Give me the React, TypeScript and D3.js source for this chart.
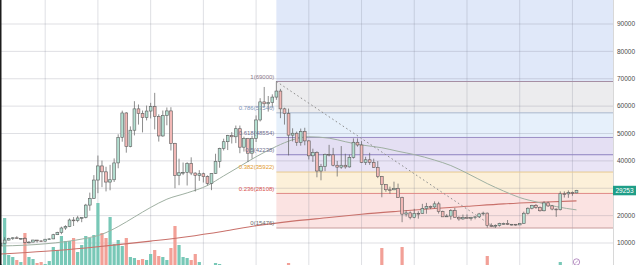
import React from "react";
import * as d3 from "d3";

const WIDTH = 640;
const HEIGHT = 265;
const PLOT_RIGHT = 613;

// Weekly BTC/USD candles: [week start (Monday), open, high, low, close]
const candles: [string, number, number, number, number][] = [
  ["2020-07-20", 9160, 9990, 9050, 9930],
  ["2020-07-27", 9930, 12100, 9900, 11060],
  ["2020-08-03", 11060, 11900, 10950, 11590],
  ["2020-08-10", 11590, 12080, 11130, 11900],
  ["2020-08-17", 11900, 12480, 11500, 11650],
  ["2020-08-24", 11650, 11800, 11120, 11700],
  ["2020-08-31", 11700, 12090, 9880, 10250],
  ["2020-09-07", 10250, 10700, 9880, 10330],
  ["2020-09-14", 10330, 11180, 10200, 11080],
  ["2020-09-21", 11080, 11100, 10130, 10770],
  ["2020-09-28", 10770, 10960, 10370, 10660],
  ["2020-10-05", 10660, 11500, 10550, 11380],
  ["2020-10-12", 11380, 11720, 11200, 11500],
  ["2020-10-19", 11500, 13350, 11410, 13030],
  ["2020-10-26", 13030, 14100, 12900, 13800],
  ["2020-11-02", 13800, 15960, 13200, 15480],
  ["2020-11-09", 15480, 16480, 14800, 15960],
  ["2020-11-16", 15960, 18950, 15800, 18400],
  ["2020-11-23", 18400, 19480, 16200, 18180],
  ["2020-11-30", 18180, 19920, 17600, 19150],
  ["2020-12-07", 19150, 19420, 17600, 19270],
  ["2020-12-14", 19270, 24300, 19000, 23850],
  ["2020-12-21", 23850, 28400, 21800, 26280],
  ["2020-12-28", 26280, 34800, 26100, 33000],
  ["2021-01-04", 33000, 41950, 28200, 38150],
  ["2021-01-11", 38150, 40100, 30400, 36000],
  ["2021-01-18", 36000, 37850, 28850, 32260],
  ["2021-01-25", 32260, 38550, 29250, 33100],
  ["2021-02-01", 33100, 40900, 32300, 39250],
  ["2021-02-08", 39250, 49700, 37300, 48600],
  ["2021-02-15", 48600, 58350, 47000, 57500],
  ["2021-02-22", 57500, 57800, 43000, 45250],
  ["2021-03-01", 45250, 52600, 44950, 51200],
  ["2021-03-08", 51200, 61800, 49300, 59000],
  ["2021-03-15", 59000, 60600, 53250, 57350],
  ["2021-03-22", 57350, 58400, 50400, 55800],
  ["2021-03-29", 55800, 60200, 54800, 58200],
  ["2021-04-05", 58200, 61200, 55500, 59800],
  ["2021-04-12", 59800, 64850, 51500, 56200],
  ["2021-04-19", 56200, 57000, 47050, 49100],
  ["2021-04-26", 49100, 58400, 48800, 56600],
  ["2021-05-03", 56600, 59500, 53000, 58250],
  ["2021-05-10", 58250, 59600, 43800, 46400],
  ["2021-05-17", 46400, 46600, 30000, 34650],
  ["2021-05-24", 34650, 40800, 31100, 35650],
  ["2021-05-31", 35650, 39400, 34800, 35800],
  ["2021-06-07", 35800, 39500, 31000, 39100],
  ["2021-06-14", 39100, 41300, 34800, 35550],
  ["2021-06-21", 35550, 35800, 28800, 34700],
  ["2021-06-28", 34700, 36600, 32700, 35300],
  ["2021-07-05", 35300, 35700, 32100, 34250],
  ["2021-07-12", 34250, 34700, 31000, 31780],
  ["2021-07-19", 31780, 35500, 29300, 35400],
  ["2021-07-26", 35400, 42600, 35200, 39850],
  ["2021-08-02", 39850, 44800, 37500, 44550],
  ["2021-08-09", 44550, 48100, 43800, 47000],
  ["2021-08-16", 47000, 49500, 43950, 49300],
  ["2021-08-23", 49300, 50500, 46350, 48800],
  ["2021-08-30", 48800, 52900, 46500, 51750],
  ["2021-09-06", 51750, 52900, 42800, 45000],
  ["2021-09-13", 45000, 48850, 43400, 48200],
  ["2021-09-20", 48200, 48400, 39600, 42800],
  ["2021-09-27", 42800, 49200, 40800, 48200],
  ["2021-10-04", 48200, 56600, 46900, 54950],
  ["2021-10-11", 54950, 62900, 54400, 61550],
  ["2021-10-18", 61550, 67000, 59700, 60850],
  ["2021-10-25", 60850, 63700, 58000, 61300],
  ["2021-11-01", 61300, 64300, 59400, 63300],
  ["2021-11-08", 63300, 69000, 62300, 65500],
  ["2021-11-15", 65500, 66300, 55600, 59000],
  ["2021-11-22", 59000, 59400, 53250, 57300],
  ["2021-11-29", 57300, 59100, 42000, 49400],
  ["2021-12-06", 49400, 51900, 47100, 50100],
  ["2021-12-13", 50100, 50700, 45500, 46700],
  ["2021-12-20", 46700, 51800, 45550, 50800],
  ["2021-12-27", 50800, 52100, 45700, 47300],
  ["2022-01-03", 47300, 47550, 40500, 41850],
  ["2022-01-10", 41850, 44450, 39650, 43100],
  ["2022-01-17", 43100, 43500, 34000, 36300],
  ["2022-01-24", 36300, 38900, 32900, 37900],
  ["2022-01-31", 37900, 42650, 36250, 42400],
  ["2022-02-07", 42400, 45850, 41650, 42200],
  ["2022-02-14", 42200, 44750, 38000, 38400],
  ["2022-02-21", 38400, 40000, 34300, 37700],
  ["2022-02-28", 37700, 45400, 37100, 38400],
  ["2022-03-07", 38400, 42600, 37150, 37800],
  ["2022-03-14", 37800, 42300, 37550, 41250],
  ["2022-03-21", 41250, 48200, 40850, 46800],
  ["2022-03-28", 46800, 48200, 45200, 45800],
  ["2022-04-04", 45800, 47200, 39200, 39400],
  ["2022-04-11", 39400, 41500, 38500, 40400],
  ["2022-04-18", 40400, 42950, 38550, 39450],
  ["2022-04-25", 39450, 40800, 37500, 37650],
  ["2022-05-02", 37650, 39900, 33700, 34300],
  ["2022-05-09", 34300, 34500, 26700, 31300],
  ["2022-05-16", 31300, 31450, 28700, 29450],
  ["2022-05-23", 29450, 30600, 28000, 29440],
  ["2022-05-30", 29440, 32400, 29300, 29900],
  ["2022-06-06", 29900, 31700, 26550, 26600],
  ["2022-06-13", 26600, 26900, 17600, 20550],
  ["2022-06-20", 20550, 22000, 19650, 21000],
  ["2022-06-27", 21000, 21550, 18650, 19300],
  ["2022-07-04", 19300, 22500, 19050, 20850],
  ["2022-07-11", 20850, 21600, 18900, 20800],
  ["2022-07-18", 20800, 24300, 20750, 22600],
  ["2022-07-25", 22600, 24650, 20700, 23300],
  ["2022-08-01", 23300, 23650, 22400, 23180],
  ["2022-08-08", 23180, 25200, 22650, 24300],
  ["2022-08-15", 24300, 25050, 20750, 21500],
  ["2022-08-22", 21500, 21800, 19500, 19560],
  ["2022-08-29", 19560, 20550, 19520, 19850],
  ["2022-09-05", 19850, 22350, 18550, 21800],
  ["2022-09-12", 21800, 22800, 19300, 19400],
  ["2022-09-19", 19400, 19700, 18150, 18800],
  ["2022-09-26", 18800, 20400, 18450, 19300],
  ["2022-10-03", 19300, 20450, 19050, 19070],
  ["2022-10-10", 19070, 19550, 18200, 19260],
  ["2022-10-17", 19260, 19700, 18650, 19570],
  ["2022-10-24", 19570, 21000, 19250, 20630],
  ["2022-10-31", 20630, 21450, 20050, 20920],
  ["2022-11-07", 20920, 21100, 15600, 16330],
  ["2022-11-14", 16330, 17200, 15800, 16280],
  ["2022-11-21", 16280, 16800, 15476, 16450],
  ["2022-11-28", 16450, 17400, 16000, 17100],
  ["2022-12-05", 17100, 17420, 16750, 17120],
  ["2022-12-12", 17120, 18400, 16550, 16780],
  ["2022-12-19", 16780, 16950, 16400, 16840],
  ["2022-12-26", 16840, 16950, 16300, 16610],
  ["2023-01-02", 16610, 17200, 16550, 17130],
  ["2023-01-09", 17130, 21450, 17100, 20870],
  ["2023-01-16", 20870, 23000, 20400, 22700],
  ["2023-01-23", 22700, 23950, 22300, 23750],
  ["2023-01-30", 23750, 24250, 22500, 22950],
  ["2023-02-06", 22950, 23350, 21450, 21780],
  ["2023-02-13", 21780, 25250, 21550, 24650],
  ["2023-02-20", 24650, 25100, 23150, 23550],
  ["2023-02-27", 23550, 23900, 21950, 22400],
  ["2023-03-06", 22400, 22600, 19550, 22150],
  ["2023-03-13", 22150, 28850, 21900, 28000],
  ["2023-03-20", 28000, 28850, 26600, 27950],
  ["2023-03-27", 27950, 29200, 26500, 28450],
  ["2023-04-03", 28450, 28800, 27250, 28300],
  ["2023-04-10", 28300, 29400, 28200, 29253],
];

// Weekly volume (thousand BTC), one value per candle above
const volumes: number[] = [
  26, 72, 35, 33, 30, 28, 57, 33, 31, 27, 28, 26, 29, 43, 40, 54, 49, 49, 52, 38,
  45, 54, 52, 55, 87, 57, 52, 73, 46, 50, 44, 52, 33, 32, 30, 31, 30, 36, 40, 34,
  33, 30, 42, 64, 45, 33, 32, 30, 36, 28, 24, 23, 25, 27, 26, 25, 24, 22, 24, 25,
  22, 23, 22, 24, 24, 25, 22, 21, 23, 24, 21, 27, 22, 21, 19, 18, 20, 19, 22, 21,
  18, 19, 17, 19, 20, 17, 16, 18, 17, 18, 15, 15, 16, 24, 42, 20, 18, 19, 22, 43,
  24, 20, 19, 17, 20, 19, 15, 17, 18, 16, 15, 21, 20, 18, 17, 14, 16, 14, 16, 15,
  34, 22, 16, 15, 13, 15, 11, 10, 12, 20, 18, 15, 15, 14, 18, 15, 14, 20, 28, 22,
  18, 15, 6,
];

// 50-week simple moving average
const ma50: [string, number][] = [
  ["2020-07-20", 8900], ["2020-08-31", 9200], ["2020-10-05", 9700], ["2020-11-09", 10500],
  ["2020-12-14", 11700], ["2021-01-11", 13200], ["2021-02-08", 16000], ["2021-03-08", 19500],
  ["2021-04-05", 23000], ["2021-05-03", 26000], ["2021-06-07", 28300], ["2021-07-12", 31000],
  ["2021-08-09", 34500], ["2021-09-06", 38000], ["2021-10-04", 41500], ["2021-11-08", 45300],
  ["2021-12-06", 47700], ["2022-01-03", 48800], ["2022-02-07", 48300], ["2022-03-07", 47000],
  ["2022-04-04", 45800], ["2022-05-09", 44800], ["2022-06-06", 43500], ["2022-07-04", 42300],
  ["2022-08-08", 40300], ["2022-09-05", 38300], ["2022-10-03", 35500], ["2022-11-07", 31700],
  ["2022-12-05", 29000], ["2023-01-02", 26600], ["2023-02-06", 24700], ["2023-03-06", 23300],
  ["2023-04-10", 22100],
];

// 200-week simple moving average
const ma200: [string, number][] = [
  ["2020-07-20", 6000], ["2020-10-05", 7000], ["2020-12-14", 8200], ["2021-02-08", 9400],
  ["2021-04-05", 10700], ["2021-06-07", 12300], ["2021-08-09", 14300], ["2021-10-04", 16300],
  ["2021-12-06", 18000], ["2022-02-07", 19300], ["2022-04-04", 20500], ["2022-06-06", 21600],
  ["2022-08-08", 22600], ["2022-10-03", 23400], ["2022-12-05", 24300], ["2023-02-06", 24900],
  ["2023-04-10", 25400],
];

// Fibonacci retracement anchors
const fibHigh = 69000;
const fibHighDate = "2021-11-08";
const fibLow = 15476;
const fibLowDate = "2022-11-21";
const fibLevels = [1, 0.786, 0.618, 0.5, 0.382, 0.236, 0];
const fibExtension = 1.618;
const fibBandFills = ["#e0e8f9", "#ececee", "#e6f0fb", "#e4dff3", "#e9e4f6", "#fcf0d9", "#fbe3e2"];
const fibLineColors = ["#a58ea3", "#a9b6cc", "#9a8fc4", "#8d80bf", "#e6c98f", "#e08a87", "#c79c9c"];
const fibLabelColors = ["#8c7a8c", "#7c93b8", "#6f6f8f", "#6f6f8f", "#e39a2e", "#d9534f", "#6b6b6b"];

const priceTicks = [10000, 20000, 30000, 40000, 50000, 60000, 70000, 80000, 90000];
const lastPrice = 29253;

const parse = d3.utcParse("%Y-%m-%d");
const FONT = "'Liberation Sans', Arial, sans-serif";

export default function App() {
  const x = d3
    .scaleUtc()
    .domain([parse("2020-07-19")!, parse("2023-06-12")!])
    .range([0, PLOT_RIGHT]);
  const y = d3.scaleLinear().domain([10000, 90000]).range([243, 24]);
  const yVol = d3.scaleLinear().domain([0, 100]).range([290, 190]);

  const gridDates = d3
    .utcMonth.every(3)!
    .range(parse("2020-09-01")!, parse("2023-06-01")!)
    .map((d) => d3.utcMonday.ceil(d));

  const fibValue = (lvl: number) => fibLow + lvl * (fibHigh - fibLow);
  const fx0 = x(parse(fibHighDate)!);
  const fx1 = PLOT_RIGHT;
  const bandEdges = [fibExtension, ...fibLevels];

  const lineGen = d3
    .line<[string, number]>()
    .x((d) => x(parse(d[0])!))
    .y((d) => y(d[1]))
    .curve(d3.curveMonotoneX);

  const bodyW = 2.8;
  const volW = 3.2;
  const tagY = y(lastPrice);
  // the last-price tag sits over any scale label it would collide with
  const visibleTicks = priceTicks.filter((t) => Math.abs(y(t) - tagY) > 8);

  return (
    <div style={{ position: "absolute", left: 0, top: 0 }}>
      <svg width={WIDTH} height={HEIGHT} style={{ display: "block", fontFamily: FONT }}>
        <defs>
          <clipPath id="plot-clip">
            <rect x={0} y={0} width={PLOT_RIGHT} height={HEIGHT} />
          </clipPath>
        </defs>
        <rect x={0} y={0} width={WIDTH} height={HEIGHT} fill="#ffffff" />

        <g clipPath="url(#plot-clip)">
          {/* Fibonacci bands */}
          {fibBandFills.map((fill, k) => {
            const yTop = y(fibValue(bandEdges[k]));
            const yBot = y(fibValue(bandEdges[k + 1]));
            return (
              <rect key={`band-${k}`} x={fx0} y={yTop} width={fx1 - fx0} height={yBot - yTop} fill={fill} />
            );
          })}

          {/* Grid */}
          {priceTicks.map((t) => (
            <line key={`hg-${t}`} x1={0} x2={PLOT_RIGHT} y1={y(t)} y2={y(t)} stroke="rgba(110,115,130,0.22)" strokeWidth={1} />
          ))}
          {gridDates.map((d) => (
            <line key={`vg-${d.toISOString()}`} x1={x(d)} x2={x(d)} y1={0} y2={HEIGHT} stroke="rgba(110,115,130,0.22)" strokeWidth={1} />
          ))}

          {/* Fibonacci level lines */}
          {fibLevels.map((lvl, k) => (
            <line key={`fl-${lvl}`} x1={fx0} x2={fx1} y1={y(fibValue(lvl))} y2={y(fibValue(lvl))} stroke={fibLineColors[k]} strokeWidth={1} />
          ))}

          {/* Volume */}
          {candles.map((c, i) => {
            const cx = x(parse(c[0])!);
            const up = c[4] >= c[1];
            const top = yVol(volumes[i]);
            return (
              <rect key={`v-${c[0]}`} x={cx - volW / 2} y={top} width={volW} height={HEIGHT - top + 5} fill={up ? "#78c8b7" : "#f2a097"} />
            );
          })}

          {/* Moving averages */}
          <path d={lineGen(ma200) ?? ""} fill="none" stroke="#c9716b" strokeWidth={1.1} />
          <path d={lineGen(ma50) ?? ""} fill="none" stroke="#9fb0a2" strokeWidth={1} />

          {/* Retracement trend line */}
          <line
            x1={fx0}
            y1={y(fibHigh)}
            x2={x(parse(fibLowDate)!)}
            y2={y(fibLow)}
            stroke="#8e8e8e"
            strokeWidth={1}
            strokeDasharray="1.6,2.6"
          />

          {/* Candles */}
          {candles.map((c) => {
            const [date, o, h, l, cl] = c;
            const cx = x(parse(date)!);
            const up = cl >= o;
            const yTop = y(Math.max(o, cl));
            const yBot = y(Math.min(o, cl));
            return (
              <g key={`c-${date}`}>
                <line x1={cx} x2={cx} y1={y(h)} y2={y(l)} stroke="#5c5c5c" strokeWidth={0.7} />
                <rect
                  x={cx - bodyW / 2}
                  y={yTop}
                  width={bodyW}
                  height={Math.max(0.8, yBot - yTop)}
                  fill={up ? "#b3dfd1" : "#f2b8b6"}
                  stroke="#5c5c5c"
                  strokeWidth={0.6}
                />
              </g>
            );
          })}

          {/* Event marker */}
          <circle cx={x(parse("2023-04-10")!)} cy={262} r={3.2} fill="#ffffff" stroke="#a878b8" strokeWidth={0.8} />
          <line
            x1={x(parse("2023-04-10")!) - 1.6}
            x2={x(parse("2023-04-10")!) + 1.6}
            y1={263.6}
            y2={260.4}
            stroke="#a878b8"
            strokeWidth={0.7}
          />
        </g>

        {/* Fibonacci labels */}
        {fibLevels.map((lvl, k) => (
          <text
            key={`flab-${lvl}`}
            x={fx0 - 2}
            y={y(fibValue(lvl)) - 2.6}
            fontSize={6}
            textAnchor="end"
            fill={fibLabelColors[k]}
          >
            {`${lvl}(${Math.round(fibValue(lvl))})`}
          </text>
        ))}

        {/* Left frame edge */}
        <rect x={0} y={0} width={1.5} height={HEIGHT} fill="#1c1c1c" />

        {/* Price scale */}
        <rect x={PLOT_RIGHT} y={0} width={WIDTH - PLOT_RIGHT} height={HEIGHT} fill="#ffffff" />
        <line x1={PLOT_RIGHT + 0.5} x2={PLOT_RIGHT + 0.5} y1={0} y2={HEIGHT} stroke="#d8d8d8" strokeWidth={1} />
        {visibleTicks.map((t) => (
          <text key={`pt-${t}`} x={617} y={y(t)} dy="0.35em" fontSize={6.5} fill="#4a4a4a">
            {t}
          </text>
        ))}
        <rect x={PLOT_RIGHT} y={tagY - 4.5} width={23} height={9.5} fill="#1f9e88" />
        <text x={PLOT_RIGHT + 11.5} y={tagY + 0.2} dy="0.35em" fontSize={6.5} textAnchor="middle" fill="#ffffff">
          {lastPrice}
        </text>
      </svg>
    </div>
  );
}
